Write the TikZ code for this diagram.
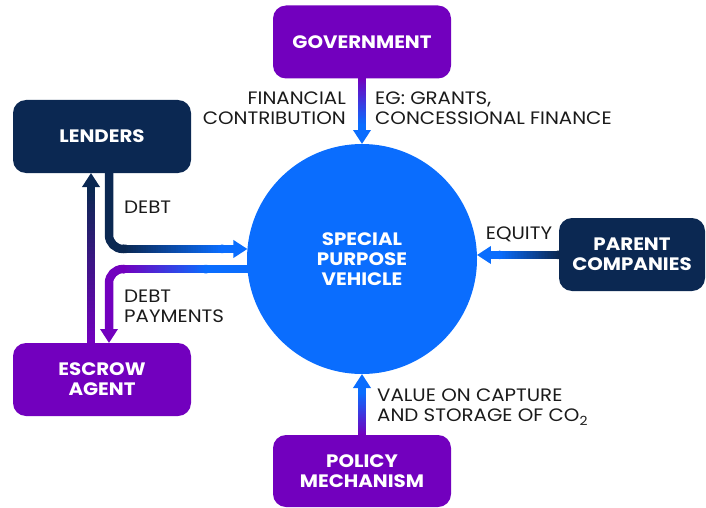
\documentclass[tikz,border=0pt]{standalone}
\usepackage{fontspec}
\setmainfont{Poppins}[FakeStretch=1.1]
\usetikzlibrary{arrows.meta,calc}
\definecolor{navy}{HTML}{0B2852}
\definecolor{vio}{HTML}{7200BE}
\definecolor{sky}{HTML}{0A6DFE}
\definecolor{ink}{HTML}{1A1A1A}
% gradient straight shaft from #1 to #2, colour #3 -> #4
\newcommand\gradseg[4]{%
  \foreach \i in {0,...,39}{%
    \pgfmathsetmacro\pa{\i/40}%
    \pgfmathsetmacro\pb{min((\i+1.4)/40,1)}%
    \pgfmathsetmacro\pc{100-\i*100/39}%
    \draw[shaft, color=#3!\pc!#4] ($(#1)!\pa!(#2)$) -- ($(#1)!\pb!(#2)$);
  }}
\begin{document}
\begin{tikzpicture}[x=1pt,y=-1pt,
  box/.style={rounded corners=13pt, minimum width=178pt, minimum height=73pt, align=center, text=white, font=\bfseries\fontsize{18}{20}\selectfont, inner sep=0pt, outer sep=0pt},
  lbl/.style={text=ink, font=\fontsize{18}{20}\selectfont, inner sep=0pt},
  shaft/.style={line width=8.5pt},
  arrowhd/.style={-{Triangle[width=17pt,length=14pt]}},
]
\useasboundingbox (0,0) rectangle (706,508);
% nodes
\node[box, fill=vio] (gov) at (362,42) {GOVERNMENT};
\node[box, fill=navy] (lenders) at (102,136.5) {LENDERS};
\node[box, fill=vio] (escrow) at (102,379.5) {ESCROW\\AGENT};
\node[box, fill=navy, minimum width=146pt] (parent) at (632,254.5) {PARENT\\COMPANIES};
\node[box, fill=vio, minimum height=72pt] (policy) at (362,471) {POLICY\\MECHANISM};
\node[circle, fill=sky, minimum size=230pt, inner sep=0pt, outer sep=0pt, text=white, align=center, font=\bfseries\fontsize{18}{20}\selectfont] (spv) at (362,259) {SPECIAL\\PURPOSE\\VEHICLE};
% government -> spv
\coordinate (gM) at ([yshift=19pt]spv.north);
\draw[sky, shaft, arrowhd] ([yshift=2pt]gM) -- (spv.north);
\gradseg{gov.south}{gM}{vio}{sky}
% policy -> spv
\coordinate (pM) at ([yshift=-19pt]spv.south);
\draw[sky, shaft, arrowhd] ([yshift=-2pt]pM) -- (spv.south);
\gradseg{policy.north}{pM}{vio}{sky}
% parent -> spv
\coordinate (eqT) at (spv.2.5);
\coordinate (eqS) at (eqT -| parent.west);
\coordinate (eqM) at ([xshift=22pt]eqT);
\draw[sky, shaft, arrowhd] ([xshift=2pt]eqM) -- (eqT);
\gradseg{eqS}{eqM}{navy}{sky}
% escrow -> lenders
\coordinate (elB) at ([xshift=-11pt]escrow.north);
\coordinate (elT) at ([xshift=-11pt]lenders.south);
\coordinate (elM) at ([yshift=-16pt]elT);
\draw[navy, shaft, arrowhd] ([yshift=-2pt]elM) -- (elT);
\gradseg{elB}{elM}{vio}{navy}
% lenders -> spv (debt)
\coordinate (dS) at ([xshift=7pt]lenders.south);
\coordinate (dT) at (spv.175.5);
\coordinate (dA) at (dS |- dT);
\coordinate (dB) at ([xshift=14pt]dA);
\coordinate (dM) at ([xshift=-24pt]dT);
\draw[sky, shaft, arrowhd] ([xshift=-2pt]dM) -- (dT);
\draw[navy, shaft, rounded corners=14pt] (dS) -- (dA) -- ([xshift=1pt]dB);
\gradseg{dB}{dM}{navy}{sky}
% spv -> escrow (debt payments)
\coordinate (pS) at (spv.185);
\coordinate (pT) at ([xshift=7pt]escrow.north);
\coordinate (pA) at (pT |- pS);
\coordinate (pB) at ([xshift=14pt]pA);
\coordinate (pN) at ([xshift=-40pt]pS);
\draw[sky, shaft] ([xshift=2pt]pS) -- ([xshift=-2pt]pN);
\draw[vio, shaft, rounded corners=14pt, arrowhd] ([xshift=1pt]pB) -- (pA) -- (pT);
\gradseg{pN}{pB}{sky}{vio}
% labels
\node[lbl, anchor=east, align=right] (fin) at (346,108) {FINANCIAL\\CONTRIBUTION};
\node[lbl, anchor=west, align=left] (eg) at (375,108) {EG: GRANTS,\\CONCESSIONAL FINANCE};
\node[lbl, anchor=west] (debtl) at (124,207) {DEBT};
\node[lbl, anchor=west, align=left] (payl) at (124,306) {DEBT\\PAYMENTS};
\node[lbl] (eql) at (519,234) {EQUITY};
\node[lbl, anchor=west, align=left] (vall) at (377,407) {VALUE ON CAPTURE\\AND STORAGE OF CO\textsubscript{2}};
\end{tikzpicture}
\end{document}
